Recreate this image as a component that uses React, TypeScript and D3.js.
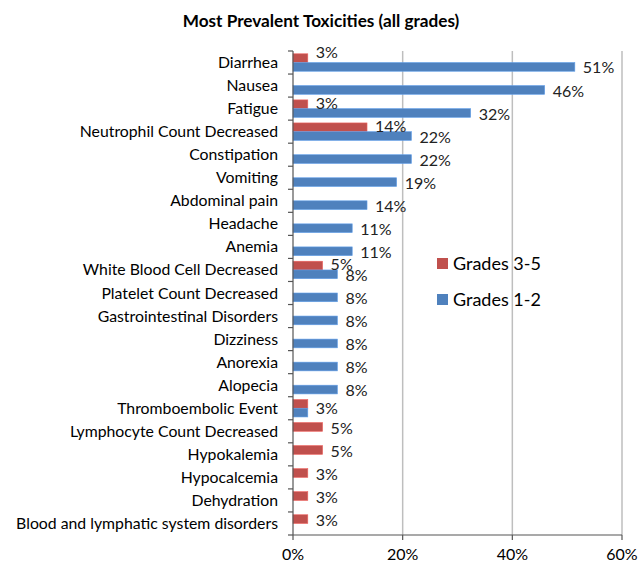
import React, { useEffect, useRef } from "react";
import * as d3 from "d3";

const categories = [
  "Diarrhea",
  "Nausea",
  "Fatigue",
  "Neutrophil Count Decreased",
  "Constipation",
  "Vomiting",
  "Abdominal pain",
  "Headache",
  "Anemia",
  "White Blood Cell Decreased",
  "Platelet Count Decreased",
  "Gastrointestinal Disorders",
  "Dizziness",
  "Anorexia",
  "Alopecia",
  "Thromboembolic Event",
  "Lymphocyte Count Decreased",
  "Hypokalemia",
  "Hypocalcemia",
  "Dehydration",
  "Blood and lymphatic system disorders",
];

// percent of patients, null = not reported
const grades35 = [2.7, null, 2.7, 13.5, null, null, null, null, null, 5.4, null, null, null, null, null, 2.7, 5.4, 5.4, 2.7, 2.7, 2.7];
const grades12 = [51.4, 45.9, 32.4, 21.6, 21.6, 18.9, 13.5, 10.8, 10.8, 8.1, 8.1, 8.1, 8.1, 8.1, 8.1, 2.7, null, null, null, null, null];

const seriesNames = ["Grades 3-5", "Grades 1-2"];
const seriesColors = ["#C0504D", "#4F81BD"];
const xTicks = [0, 20, 40, 60];

const FONT = "Lato, 'Open Sans', sans-serif";

const App = () => {
  const ref = useRef<SVGSVGElement | null>(null);

  useEffect(() => {
    if (!ref.current) return;
    const svg = d3.select(ref.current);
    svg.selectAll("*").remove();

    const left = 293;
    const right = 622;
    const top = 51;
    const bottom = 535;

    const x = d3.scaleLinear().domain([0, 60]).range([left, right]);
    const y = d3.scaleBand().domain(categories).range([top, bottom]).padding(0);
    const inner = d3
      .scaleBand()
      .domain(seriesNames)
      .range([0, y.bandwidth()])
      .paddingInner(0)
      .paddingOuter(0.32);

    // title
    svg
      .append("text")
      .attr("x", 321)
      .attr("y", 27)
      .attr("text-anchor", "middle")
      .style("font-family", FONT)
      .style("font-weight", "bold")
      .style("font-size", "17.2px")
      .style("fill", "#000")
      .text("Most Prevalent Toxicities (all grades)");

    // grid
    svg
      .append("g")
      .selectAll("line")
      .data(xTicks.slice(1))
      .join("line")
      .attr("x1", d => x(d))
      .attr("x2", d => x(d))
      .attr("y1", top)
      .attr("y2", bottom)
      .attr("stroke", "#BEBEBE")
      .attr("stroke-width", 1.5);

    // bars
    const rows = categories.map((c, i) => ({ c, vals: [grades35[i], grades12[i]] }));
    rows.forEach((row, ri) => {
      row.vals.forEach((v, s) => {
        if (v == null) return;
        const by = (y(row.c) as number) + (inner(seriesNames[s]) as number);
        svg
          .append("rect")
          .attr("x", x(0))
          .attr("y", by)
          .attr("width", x(v) - x(0))
          .attr("height", inner.bandwidth())
          .attr("fill", seriesColors[s])
          .attr("stroke", d3.color(seriesColors[s])!.brighter(0.6).toString())
          .attr("stroke-width", 0.6);
      });

      // data labels
      const [a, b] = row.vals;
      const labels: { v: number; cy: number }[] = [];
      const by0 = y(row.c) as number;
      if (a != null && b != null && Math.round(a) === Math.round(b)) {
        labels.push({ v: Math.max(a, b), cy: by0 + y.bandwidth() / 2 });
      } else {
        row.vals.forEach((v, s) => {
          if (v == null) return;
          const shift = s === 0 && b != null ? (ri === 0 ? -6 : -1) : 1;
          labels.push({
            v,
            cy: by0 + (inner(seriesNames[s]) as number) + inner.bandwidth() / 2 + shift,
          });
        });
      }
      labels.forEach(l => {
        svg
          .append("text")
          .attr("x", x(l.v) + 8)
          .attr("y", l.cy)
          .attr("dy", "0.35em")
          .style("font-family", FONT)
          .style("font-size", "16px")
          .style("fill", "#222")
          .text(`${Math.round(l.v)}%`);
      });
    });

    // left axis
    const ax = svg.append("g");
    ax.append("line")
      .attr("x1", left)
      .attr("x2", left)
      .attr("y1", top)
      .attr("y2", bottom)
      .attr("stroke", "#555")
      .attr("stroke-width", 1.2);
    const bounds = categories.map(c => y(c) as number).concat([bottom]);
    ax.selectAll("line.tick")
      .data(bounds)
      .join("line")
      .attr("class", "tick")
      .attr("x1", left - 5)
      .attr("x2", left)
      .attr("y1", d => d)
      .attr("y2", d => d)
      .attr("stroke", "#555")
      .attr("stroke-width", 1.2);
    ax.selectAll("text")
      .data(categories)
      .join("text")
      .attr("x", 278)
      .attr("y", d => (y(d) as number) + y.bandwidth() / 2)
      .attr("dy", "0.35em")
      .attr("text-anchor", "end")
      .style("font-family", FONT)
      .style("font-size", "15.8px")
      .style("fill", "#000")
      .text(d => d);

    // bottom axis
    const bx = svg.append("g");
    bx.append("line")
      .attr("x1", left)
      .attr("x2", right)
      .attr("y1", bottom)
      .attr("y2", bottom)
      .attr("stroke", "#555")
      .attr("stroke-width", 1.2);
    bx.selectAll("line.tick")
      .data(xTicks)
      .join("line")
      .attr("class", "tick")
      .attr("x1", d => x(d))
      .attr("x2", d => x(d))
      .attr("y1", bottom)
      .attr("y2", bottom + 5)
      .attr("stroke", "#555")
      .attr("stroke-width", 1.2);
    bx.selectAll("text")
      .data(xTicks)
      .join("text")
      .attr("x", d => x(d))
      .attr("y", 560)
      .attr("text-anchor", "middle")
      .style("font-family", FONT)
      .style("font-size", "16px")
      .style("fill", "#000")
      .text(d => `${d}%`);

    // legend
    const lg = svg.append("g");
    seriesNames.forEach((name, i) => {
      lg.append("rect")
        .attr("x", 437)
        .attr("y", 258 + i * 36)
        .attr("width", 11)
        .attr("height", 11)
        .attr("fill", seriesColors[i]);
      lg.append("text")
        .attr("x", 453)
        .attr("y", 263.5 + i * 36)
        .attr("dy", "0.35em")
        .style("font-family", FONT)
        .style("font-size", "18px")
        .style("fill", "#000")
        .text(name);
    });
  }, []);

  return (
    <svg
      ref={ref}
      width={638}
      height={564}
      style={{ position: "absolute", left: 0, top: 0, background: "#fff" }}
    />
  );
};

export default App;
